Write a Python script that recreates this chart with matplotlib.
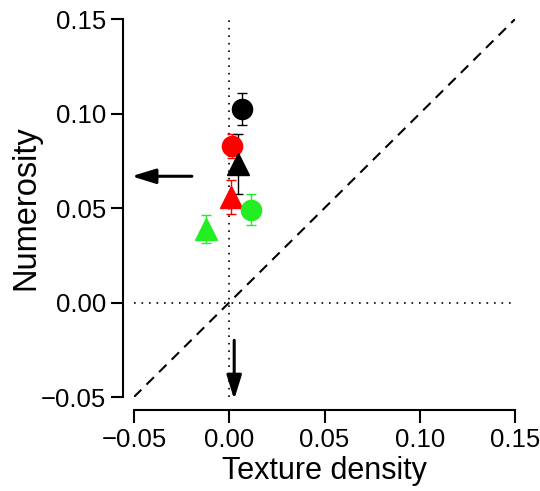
import matplotlib
matplotlib.use("Agg")
import matplotlib.pyplot as plt

plt.rcParams['font.family'] = ['Liberation Sans', 'DejaVu Sans']

# Data (texture density effect x, numerosity effect y, error on y)
labels = ["black circle", "red circle", "black triangle", "red triangle", "green circle", "green triangle"]
x_vals = [0.0067, 0.0014, 0.0044, 0.0010, 0.0114, -0.0120]
y_vals = [0.1026, 0.0827, 0.0733, 0.0560, 0.0492, 0.0390]
y_err = [0.0085, 0.0065, 0.0160, 0.0090, 0.0080, 0.0075]
colors = ["black", "red", "black", "red", "#22ee22", "#22ee22"]
markers = ["o", "o", "^", "^", "o", "^"]

# arrows (start -> end) in data units
arrow_left = [(-0.0196, 0.0668), (-0.0512, 0.0668)]
arrow_down = [(0.0026, -0.0200), (0.0026, -0.0513)]

ticks = [-0.05, 0.00, 0.05, 0.10, 0.15]
tick_labels = ["\u22120.05", "0.00", "0.05", "0.10", "0.15"]

fig = plt.figure(figsize=(5.4, 4.91), dpi=100)
ax = fig.add_axes([0.248, 0.1914, 0.706, 0.7699])
ax.set_xlim(-0.05, 0.15)
ax.set_ylim(-0.05, 0.15)

# reference lines
ax.plot([-0.05, 0.15], [-0.05, 0.15], color="black", lw=1.5, dashes=(5, 3.5), zorder=1)
ax.axhline(0, color="black", lw=1.2, dashes=(1, 3.5), zorder=1)
ax.axvline(0, color="black", lw=1.2, dashes=(1, 3.5), zorder=1)

for xv, yv, e, c, m in zip(x_vals, y_vals, y_err, colors, markers):
    ax.errorbar(xv, yv, yerr=e, fmt='none', ecolor=c, elinewidth=1.0, capsize=3.6, capthick=1.0, zorder=2)
    ax.plot(xv, yv, marker=m, markersize=14.5 if m == 'o' else 15.5, color=c,
            markeredgecolor=c, linestyle='none', zorder=3, clip_on=False)

for (s, e_) in (arrow_left, arrow_down):
    ax.annotate("", xy=e_, xytext=s,
                arrowprops=dict(arrowstyle="-|>,head_length=1.45,head_width=0.45",
                                lw=2.2, color="black", shrinkA=0, shrinkB=0,
                                mutation_scale=10),
                annotation_clip=False)

for side in ("top", "right"):
    ax.spines[side].set_visible(False)
ax.spines["left"].set_position(("outward", 8))
ax.spines["bottom"].set_position(("outward", 9.2))
for side in ("left", "bottom"):
    ax.spines[side].set_linewidth(1.5)
    ax.spines[side].set_bounds(-0.05, 0.15)

ax.set_xticks(ticks)
ax.set_xticklabels(tick_labels)
ax.set_yticks(ticks)
ax.set_yticklabels(tick_labels)
ax.tick_params(axis="both", length=9, width=1.5, labelsize=18.5, pad=3, direction="out")
ax.tick_params(axis="x", pad=4)

ax.set_xlabel("Texture density", fontsize=22, labelpad=3)
ax.set_ylabel("Numerosity", fontsize=23.5, labelpad=0)

fig.savefig("out.png", dpi=100)
